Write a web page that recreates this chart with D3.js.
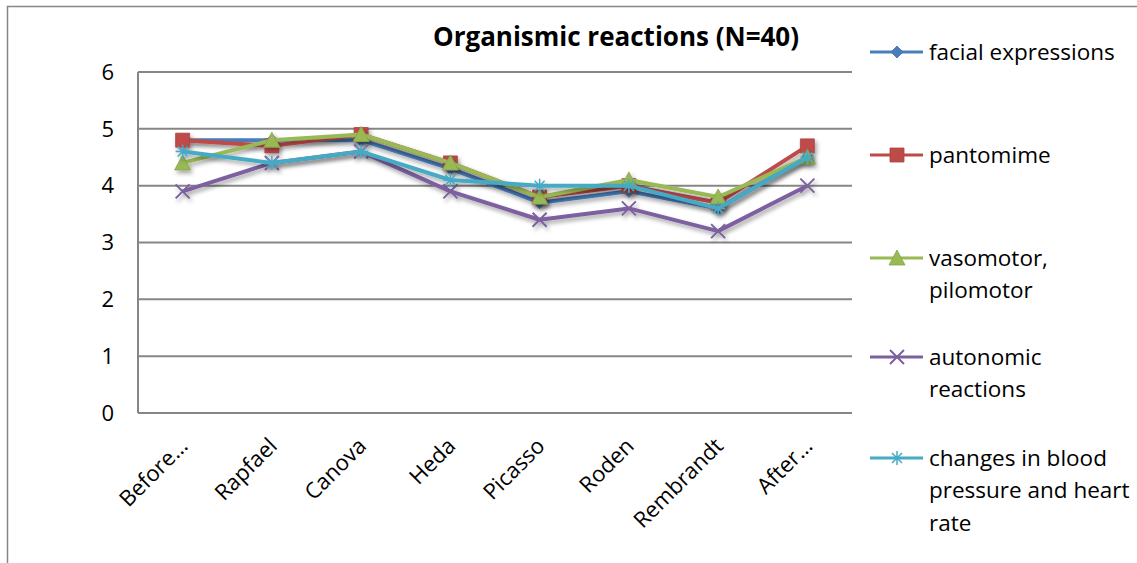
<!DOCTYPE html>
<html>
<head>
<meta charset="utf-8">
<script src="https://cdn.jsdelivr.net/npm/d3@7"></script>
<style>
  body { margin: 0; background: #fff; }
  text { font-family: "Open Sans", "Noto Sans", sans-serif; }
</style>
</head>
<body>
<svg id="chart" width="1137" height="563"></svg>
<script>
var categories = ["Before…", "Rapfael", "Canova", "Heda", "Picasso", "Roden", "Rembrandt", "After…"];
var facial = [4.8, 4.8, 4.8, 4.3, 3.7, 3.9, 3.6, 4.5];
var pantomime = [4.8, 4.7, 4.9, 4.4, 3.8, 4.0, 3.7, 4.7];
var vasomotor = [4.4, 4.8, 4.9, 4.4, 3.8, 4.1, 3.8, 4.5];
var autonomic = [3.9, 4.4, 4.6, 3.9, 3.4, 3.6, 3.2, 4.0];
var bloodPressure = [4.6, 4.4, 4.6, 4.1, 4.0, 4.0, 3.6, 4.5];
var yTicks = [0, 1, 2, 3, 4, 5, 6];

var series = [
  { name: ["facial expressions"], values: facial, color: "#4A7EBB", marker: "diamond" },
  { name: ["pantomime"], values: pantomime, color: "#BE4B48", marker: "square" },
  { name: ["vasomotor,", "pilomotor"], values: vasomotor, color: "#98B954", marker: "triangle" },
  { name: ["autonomic", "reactions"], values: autonomic, color: "#7D60A0", marker: "cross" },
  { name: ["changes in blood", "pressure and heart", "rate"], values: bloodPressure, color: "#46AAC5", marker: "star" }
];

var svg = d3.select("#chart");

// outer chart border
svg.append("rect")
  .attr("x", 7.5).attr("y", 6.5)
  .attr("width", 1140).attr("height", 570)
  .style("fill", "none").style("stroke", "#868686").style("stroke-width", 1.5);

var defs = svg.append("defs");
defs.append("filter").attr("id", "shadow")
  .attr("x", "-20%").attr("y", "-20%").attr("width", "140%").attr("height", "140%")
  .append("feDropShadow")
  .attr("dx", 2).attr("dy", 3).attr("stdDeviation", 2)
  .attr("flood-color", "#000").attr("flood-opacity", 0.35);

var plotLeft = 138, plotRight = 852, plotTop = 72, plotBottom = 413;

var xScale = d3.scaleBand().domain(categories).range([plotLeft, plotRight]);
var yScale = d3.scaleLinear().domain([0, 6]).range([plotBottom, plotTop]);

// gridlines
svg.append("g")
  .selectAll("line")
  .data(yTicks)
  .enter()
  .append("line")
  .attr("x1", plotLeft).attr("x2", plotRight)
  .attr("y1", function (d) { return yScale(d); })
  .attr("y2", function (d) { return yScale(d); })
  .style("stroke", "#868686").style("stroke-width", 2);

// y axis line
svg.append("line")
  .attr("x1", plotLeft).attr("x2", plotLeft)
  .attr("y1", plotTop).attr("y2", plotBottom)
  .style("stroke", "#868686").style("stroke-width", 2);

// y labels
svg.append("g")
  .selectAll("text")
  .data(yTicks)
  .enter()
  .append("text")
  .attr("x", 114)
  .attr("y", function (d) { return yScale(d); })
  .attr("dy", "0.35em")
  .attr("text-anchor", "end")
  .style("font-size", "22px")
  .style("fill", "#000")
  .text(function (d) { return d; });

// x labels
svg.append("g")
  .selectAll("text")
  .data(categories)
  .enter()
  .append("text")
  .attr("transform", function (d) {
    var cx = xScale(d) + xScale.bandwidth() / 2 + 1;
    return "translate(" + cx + ",442)rotate(-45)";
  })
  .attr("text-anchor", "end")
  .attr("dy", "0.35em")
  .style("font-size", "22px")
  .style("fill", "#000")
  .text(function (d) { return d; });

// title
svg.append("text")
  .attr("x", 616).attr("y", 46)
  .attr("text-anchor", "middle")
  .style("font-size", "26px")
  .style("font-weight", "bold")
  .style("fill", "#000")
  .text("Organismic reactions (N=40)");

function markerPath(type) {
  if (type === "diamond") return "M0,-6L6,0L0,6L-6,0Z";
  if (type === "square") return "M-7,-7H7V7H-7Z";
  if (type === "triangle") return "M0,-8L8,7H-8Z";
  if (type === "cross") return "M-7,-7L7,7M7,-7L-7,7";
  return "M-7,0H7M0,-7V7M-5,-5L5,5M5,-5L-5,5";
}

function drawMarker(g, type, color) {
  var p = g.append("path").attr("d", markerPath(type));
  if (type === "cross" || type === "star") {
    p.style("fill", "none").style("stroke", color).style("stroke-width", type === "cross" ? 2 : 1.5);
  } else {
    p.style("fill", color).style("stroke", d3.color(color).darker(0.3)).style("stroke-width", 0.8);
  }
}

var line = d3.line()
  .x(function (d, i) { return xScale(categories[i]) + xScale.bandwidth() / 2; })
  .y(function (d) { return yScale(d); });

series.forEach(function (s) {
  var g = svg.append("g").attr("filter", "url(#shadow)");
  g.append("path")
    .datum(s.values)
    .attr("d", line)
    .style("fill", "none")
    .style("stroke", s.color)
    .style("stroke-width", 4)
    .style("stroke-linejoin", "round");
  s.values.forEach(function (v, i) {
    var m = g.append("g")
      .attr("transform", "translate(" + (xScale(categories[i]) + xScale.bandwidth() / 2) + "," + yScale(v) + ")");
    drawMarker(m, s.marker, s.color);
  });
});

// legend
var legendY = [52, 155, 258, 357, 458];
series.forEach(function (s, i) {
  var g = svg.append("g").attr("transform", "translate(0," + legendY[i] + ")");
  g.append("line")
    .attr("x1", 870).attr("x2", 923).attr("y1", 0).attr("y2", 0)
    .style("stroke", s.color).style("stroke-width", 3);
  var m = g.append("g").attr("transform", "translate(897,0)");
  drawMarker(m, s.marker, s.color);
  s.name.forEach(function (t, j) {
    g.append("text")
      .attr("x", 929)
      .attr("y", j * 32.5)
      .attr("dy", "0.35em")
      .style("font-size", "22.5px")
      .style("fill", "#000")
      .text(t);
  });
});
</script>
</body>
</html>
